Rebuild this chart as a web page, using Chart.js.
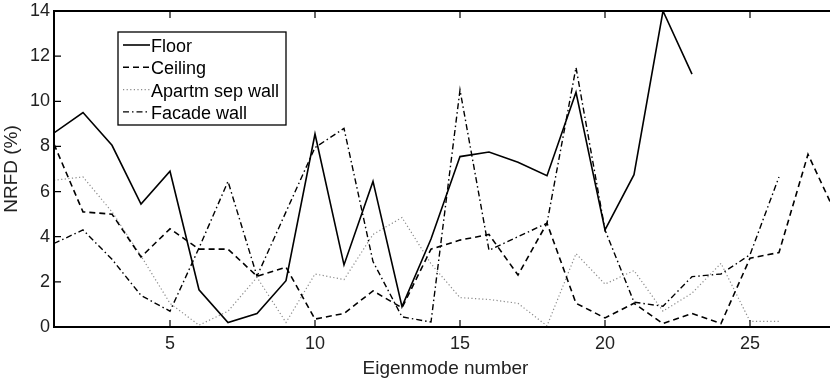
<!DOCTYPE html>
<html>
<head>
<meta charset="utf-8">
<script src="https://cdn.jsdelivr.net/npm/chart.js@4/dist/chart.umd.min.js"></script>
<style>
  html, body { margin: 0; padding: 0; background: #fff; overflow: hidden; }
</style>
</head>
<body>
<canvas id="chart" width="840" height="382"></canvas>
<script>
// Valores (NRFD en % por modo propio)
const modes = [1, 2, 3, 4, 5, 6, 7, 8, 9, 10, 11, 12, 13, 14, 15, 16, 17, 18, 19, 20, 21, 22, 23, 24, 25, 26, 27, 28];
const floorVals = [8.6, 9.5, 8.05, 5.45, 6.9, 1.65, 0.2, 0.6, 2.05, 8.55, 2.75, 6.45, 0.9, 3.9, 7.55, 7.75, 7.3, 6.7, 10.4, 4.3, 6.75, 14.0, 11.2];
const ceilingVals = [8.1, 5.1, 5.0, 3.1, 4.35, 3.45, 3.45, 2.25, 2.65, 0.35, 0.6, 1.6, 0.85, 3.45, 3.85, 4.1, 2.3, 4.6, 1.05, 0.4, 1.05, 0.15, 0.6, 0.15, 3.05, 3.3, 7.65, 4.9];
const apartmVals = [6.5, 6.65, 5.1, 3.15, 1.05, 0.08, 0.7, 2.2, 0.2, 2.35, 2.1, 4.1, 4.85, 2.8, 1.3, 1.22, 1.05, 0.05, 3.25, 1.9, 2.5, 0.7, 1.5, 2.82, 0.25, 0.25];
const facadeVals = [3.7, 4.3, 3.0, 1.4, 0.7, 3.5, 6.45, 2.25, 5.1, 7.95, 8.8, 2.9, 0.45, 0.22, 10.5, 3.4, 4.0, 4.6, 11.5, 4.3, 1.1, 0.92, 2.23, 2.35, 3.2, 6.65];
const seriesNames = ['Floor', 'Ceiling', 'Apartm sep wall', 'Facade wall'];
const xTicks = [5, 10, 15, 20, 25];
const yTicks = [0, 2, 4, 6, 8, 10, 12, 14];

const FONT = '"Liberation Sans", Arial, Helvetica, sans-serif';

function toPoints(vals) {
    return vals.map((v, i) => ({ x: modes[i], y: v }));
}

const styles = [
    { color: '#000', dash: [], width: 1.6 },
    { color: '#000', dash: [6, 4], width: 1.6 },
    { color: '#8a8a8a', dash: [1.2, 2.4], width: 1.2 },
    { color: '#000', dash: [6, 3, 1.5, 3], width: 1.4 }
];

const allVals = [floorVals, ceilingVals, apartmVals, facadeVals];

// Marco, marcas interiores y leyenda (estilo Matlab)
const framePlugin = {
    id: 'frame',
    afterDatasetsDraw(chart) {
        const { ctx, chartArea: a, scales: { x, y } } = chart;
        ctx.save();
        ctx.strokeStyle = '#000';
        ctx.lineWidth = 2;
        ctx.setLineDash([]);
        ctx.strokeRect(a.left, a.top, a.right - a.left, a.bottom - a.top);

        ctx.lineWidth = 1.2;
        ctx.beginPath();
        xTicks.forEach(v => {
            const px = x.getPixelForValue(v);
            ctx.moveTo(px, a.bottom); ctx.lineTo(px, a.bottom - 7);
            ctx.moveTo(px, a.top); ctx.lineTo(px, a.top + 7);
        });
        yTicks.forEach(v => {
            const py = y.getPixelForValue(v);
            ctx.moveTo(a.left, py); ctx.lineTo(a.left + 7, py);
            ctx.moveTo(a.right, py); ctx.lineTo(a.right - 7, py);
        });
        ctx.stroke();

        // Leyenda
        const box = { left: 118, top: 32, right: 286, bottom: 125 };
        ctx.fillStyle = '#fff';
        ctx.fillRect(box.left, box.top, box.right - box.left, box.bottom - box.top);
        ctx.lineWidth = 1.3;
        ctx.strokeStyle = '#000';
        ctx.strokeRect(box.left, box.top, box.right - box.left, box.bottom - box.top);

        ctx.font = '18px ' + FONT;
        ctx.textBaseline = 'alphabetic';
        ctx.textAlign = 'left';
        seriesNames.forEach((name, i) => {
            const cy = 45 + i * 22.3;
            const st = styles[i];
            ctx.beginPath();
            ctx.strokeStyle = st.color;
            ctx.lineWidth = st.width;
            ctx.setLineDash(st.dash);
            ctx.moveTo(123, cy);
            ctx.lineTo(150, cy);
            ctx.stroke();
            ctx.fillStyle = '#000';
            ctx.fillText(name, 151, cy + 7);
        });
        ctx.restore();
    }
};

new Chart(document.getElementById('chart'), {
    type: 'line',
    data: {
        datasets: seriesNames.map((name, i) => ({
            label: name,
            data: toPoints(allVals[i]),
            borderColor: styles[i].color,
            borderDash: styles[i].dash,
            borderWidth: styles[i].width,
            pointRadius: 0,
            tension: 0,
            fill: false
        }))
    },
    options: {
        responsive: false,
        animation: false,
        layout: { padding: { top: 11, right: 3, left: 0, bottom: 0 } },
        plugins: {
            legend: { display: false },
            tooltip: { enabled: false }
        },
        scales: {
            x: {
                type: 'linear',
                min: 1,
                max: 28,
                grid: { display: false, drawTicks: false },
                border: { display: false },
                afterBuildTicks: s => { s.ticks = xTicks.map(v => ({ value: v })); },
                afterFit: s => { s.height = 55; },
                ticks: {
                    color: '#222',
                    font: { family: FONT, size: 18 },
                    padding: 6,
                    maxRotation: 0
                },
                title: {
                    display: true,
                    text: 'Eigenmode number',
                    color: '#222',
                    font: { family: FONT, size: 19 },
                    padding: { top: 0, bottom: 2 }
                }
            },
            y: {
                min: 0,
                max: 14,
                grid: { display: false, drawTicks: false },
                border: { display: false },
                afterBuildTicks: s => { s.ticks = yTicks.map(v => ({ value: v })); },
                afterFit: s => { s.width = 54; },
                ticks: {
                    color: '#222',
                    font: { family: FONT, size: 18, lineHeight: 0.7 },
                    padding: 4
                },
                title: {
                    display: true,
                    text: 'NRFD (%)',
                    color: '#222',
                    font: { family: FONT, size: 19 },
                    padding: { top: 0, bottom: 1 }
                }
            }
        }
    },
    plugins: [framePlugin]
});
</script>
</body>
</html>
